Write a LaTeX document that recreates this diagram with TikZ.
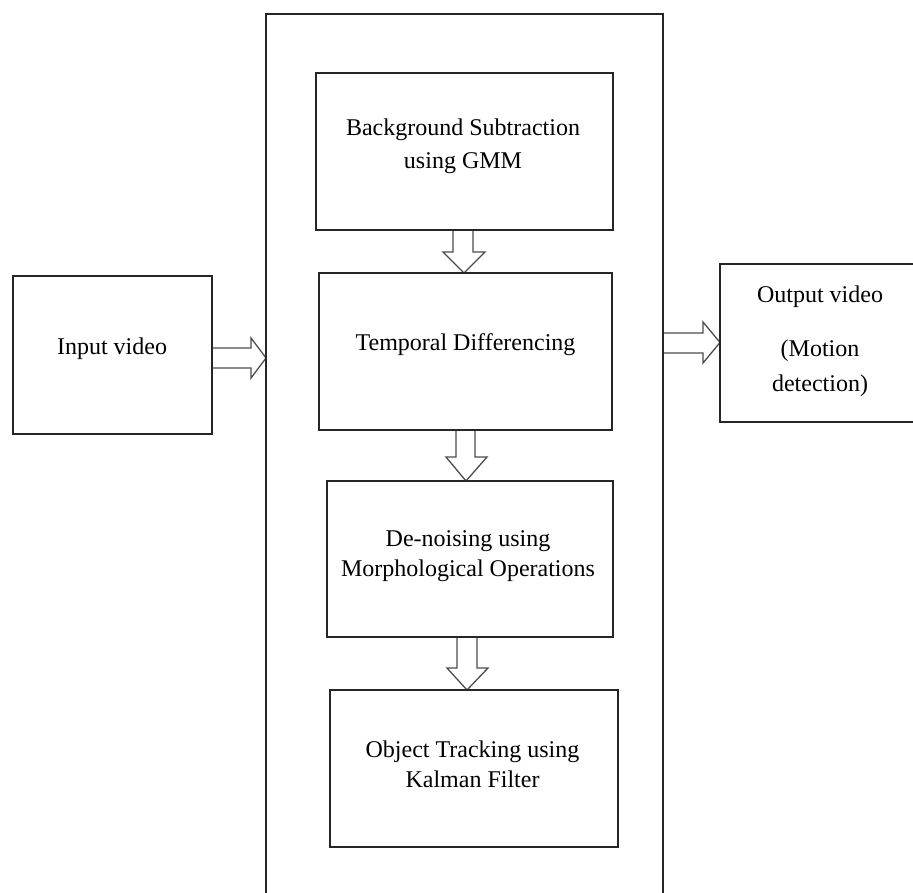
\documentclass[tikz,border=0pt]{standalone}
\usepackage{fontspec}
\setmainfont{Liberation Serif}
\usetikzlibrary{backgrounds}
\begin{document}
\begin{tikzpicture}[x=1pt,y=-1pt,
  box/.style={draw=black!85, line width=1.8pt, inner sep=0pt, outer sep=0pt},
  txt/.style={font=\fontsize{24}{33}\selectfont, align=center, inner sep=0pt},
  blk/.style={draw=black!70, line width=1.3pt, fill=white, line join=miter}]
\useasboundingbox (0,0) rectangle (913,893);
\clip (0,0) rectangle (913,893);

% processing stage (open at the bottom edge) and its inner steps
\node[box, minimum width=397pt, minimum height=886pt] (outer) at (464.5,457) {};
\node[box, minimum width=297pt, minimum height=157pt] (b1) at (464.5,151.5) {};
\node[box, minimum width=293pt, minimum height=157pt] (b2) at (465.5,351.5) {};
\node[box, minimum width=286pt, minimum height=156pt] (b3) at (470,559) {};
\node[box, minimum width=288pt, minimum height=157pt] (b4) at (474,768.5) {};

% input and output
\node[box, minimum width=199pt, minimum height=158pt] (in) at (112.5,355) {};
\node[box, minimum width=195pt, minimum height=158pt] (out) at (817.5,343) {};

% labels
\node[txt] (t1) at (463,146) {Background Subtraction\\using GMM};
\node[txt, anchor=base] (t2) at (465.5,350) {Temporal Differencing};
\node[txt, font=\fontsize{24}{30}\selectfont] (t3) at (468,556.5) {De-noising using\\Morphological Operations};
\node[txt, font=\fontsize{24}{30}\selectfont] (t4) at (472.5,764.5) {Object Tracking using\\Kalman Filter};
\node[txt, anchor=base] (t5) at (112,354) {Input video};
\node[txt, anchor=base] (t6) at (820,303) {Output video};
\node[txt, font=\fontsize{24}{35}\selectfont] (t7) at (820,368.5) {(Motion\\detection)};

% hollow block arrows
\begin{scope}[on background layer]
\draw[blk] (in.east |- 0,348) -- (251,348) -- (251,338) -- (outer.west |- 0,358)
  -- (251,378) -- (251,368) -- (in.east |- 0,368);
\draw[blk] (outer.east |- 0,333) -- (703,333) -- (703,322) -- (out.west |- 0,342.5)
  -- (703,363) -- (703,353) -- (outer.east |- 0,353);
\draw[blk] (453,0 |- b1.south) -- (453,252) -- (443,252) -- (464,0 |- b2.north)
  -- (485,252) -- (473,252) -- (473,0 |- b1.south);
\draw[blk] (456,0 |- b2.south) -- (456,457) -- (446,457) -- (466,0 |- b3.north)
  -- (487,457) -- (475,457) -- (475,0 |- b2.south);
\draw[blk] (457,0 |- b3.south) -- (457,668) -- (447,668) -- (467,0 |- b4.north)
  -- (488,668) -- (477,668) -- (477,0 |- b3.south);
\end{scope}
\end{tikzpicture}
\end{document}
